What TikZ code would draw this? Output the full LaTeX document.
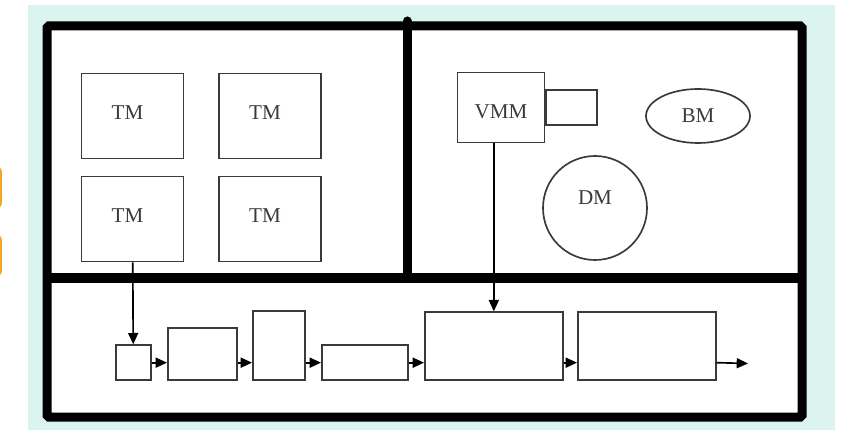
\documentclass[tikz,border=0pt]{standalone}
\usepackage{fontspec}
\setmainfont{Liberation Serif}
\usetikzlibrary{positioning,arrows.meta,shapes.geometric}

\definecolor{panelbg}{HTML}{DCF4F0}
\definecolor{inkgray}{HTML}{3A3A3A}
\definecolor{tabedge}{HTML}{F5A623}

\tikzset{
  unit/.style={draw=inkgray, line width=0.05cm, inner sep=0pt},
  link/.style={line width=0.05cm, -{Triangle[length=0.34cm,width=0.3cm]}},
  wall/.style={line width=0.27cm},
}

\begin{document}
\begin{tikzpicture}[x=0.03cm, y=-0.03cm, every node/.style={font=\fontsize{18}{21}\selectfont, text=inkgray}]
	\useasboundingbox (0,0) rectangle (846,430);
	\fill[panelbg] (28,5) rectangle (835,430);
	\draw[tabedge, line width=0.05cm, rounded corners=0.1cm] (-20,168) rectangle (1,207);
	\draw[tabedge, line width=0.05cm, rounded corners=0.1cm] (-20,236) rectangle (1,275);
	
	% frame and dividers
	\draw[wall, fill=white, rounded corners=0.05cm] (47,26) rectangle (802,417);
	\draw[wall] (47,278) -- (802,278);
	\draw[wall, line cap=round] (407,21) -- (407,278);
	
	\foreach \n/\x/\y in {tm1/132.5/116, tm2/270/116, tm3/132.5/219, tm4/270/219}
		\node[unit, minimum width=3.06cm, minimum height=2.55cm, label={[xshift=-0.15cm, yshift=0.1cm]center:TM}] (\n) at (\x,\y) {};
	
	\node[unit, minimum width=2.61cm, minimum height=2.1cm, label={[yshift=-0.12cm]center:VMM}] (vmm) at (501,107.5) {};
	\node[unit, minimum width=1.53cm, minimum height=1.05cm, right=0pt of vmm] (port) {};
	\node[unit, ellipse, minimum width=3.12cm, minimum height=1.62cm] (bm) at (698,116) {BM};
	\node[unit, circle, minimum size=3.12cm, label={[yshift=0.3cm]center:DM}] (dm) at (595,208) {};
	
	% pipeline
	\foreach \n/\x/\w/\h in {s1/115/1.05/1.05, s2/167/2.07/1.56, s3/252/1.56/2.07, s4/321/2.58/1.05, s5/424/4.14/2.04, s6/577/4.14/2.04}
		\node[unit, anchor=south west, minimum width=\w cm, minimum height=\h cm] (\n) at (\x,381) {};
	
	\draw[link] (tm3) -- (s1);
	\draw[link] (s5.north |- vmm.south) -- (s5.north);
	\foreach \a/\b in {s1/s2, s2/s3, s3/s4, s4/s5, s5/s6}
		\draw[link] (\a.east |- s1.east) -- (\b.west |- s1.east);
	\coordinate (out) at (748,363.5);
	\draw[link] (s6.east |- s1.east) -- (out);
	
\end{tikzpicture}
\end{document}
